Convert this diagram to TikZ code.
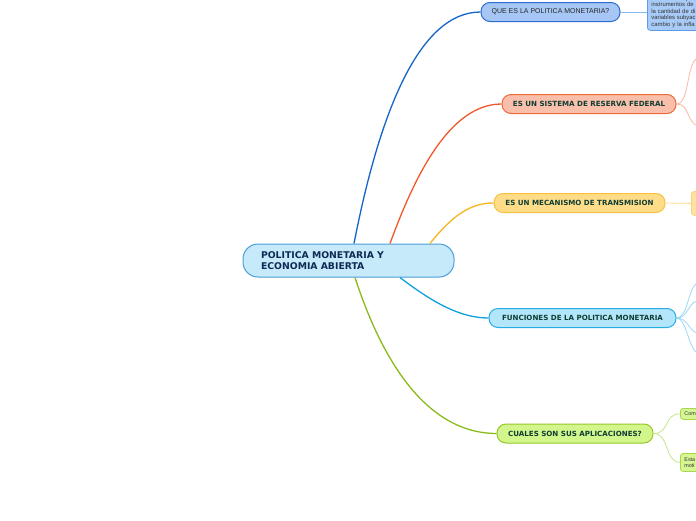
\documentclass[tikz,border=0pt]{standalone}
\usepackage{fontspec}
\setmainfont{DejaVu Sans}
\newfontfamily\arialf{Liberation Sans}
\usetikzlibrary{calc}
\definecolor{txtdark}{HTML}{0F3D33}
\definecolor{roottxt}{HTML}{0E2A52}
\definecolor{rootfill}{HTML}{C7EAFB}
\definecolor{rootdraw}{HTML}{4C9ED8}
\definecolor{bline}{HTML}{1565C8}
\definecolor{bfill}{HTML}{A6C7F6}
\definecolor{bdraw}{HTML}{2E6CD0}
\definecolor{bsubfill}{HTML}{A9CBF7}
\definecolor{bsubdraw}{HTML}{5B9BE8}
\definecolor{bsubline}{HTML}{8DB8F0}
\definecolor{oline}{HTML}{F0582A}
\definecolor{ofill}{HTML}{F9BFAA}
\definecolor{odraw}{HTML}{F06A3C}
\definecolor{osubline}{HTML}{F9B9A0}
\definecolor{yline}{HTML}{F8B51E}
\definecolor{yfill}{HTML}{FFDD88}
\definecolor{ydraw}{HTML}{F8C040}
\definecolor{ysubline}{HTML}{FFD98A}
\definecolor{ysubfill}{HTML}{FFE2A0}
\definecolor{cline}{HTML}{0FA0E0}
\definecolor{cfill}{HTML}{B3E6FA}
\definecolor{cdraw}{HTML}{25AEE6}
\definecolor{csubline}{HTML}{9ED8F5}
\definecolor{gline}{HTML}{88BC1C}
\definecolor{gfill}{HTML}{D3F68C}
\definecolor{gdraw}{HTML}{96C828}
\definecolor{gsubline}{HTML}{C5E68A}
\definecolor{gsubfill}{HTML}{D6F694}
\definecolor{gsubdraw}{HTML}{A8D84A}
\tikzset{
  mainbox/.style={rounded corners=9pt, line width=1pt, minimum height=19pt, inner sep=0pt,
    font=\fontsize{7.1}{8}\selectfont\bfseries, text=txtdark},
  conn/.style={line width=1.3pt},
  subconn/.style={line width=0.8pt},
  subbox/.style={rounded corners=3pt, line width=0.8pt, inner sep=0pt, anchor=north west,
    font=\arialf\fontsize{5.4}{6.3}\selectfont, text=black!80, align=left}
}
\begin{document}
\begin{tikzpicture}[x=1pt,y=-1pt]
\useasboundingbox (0,0) rectangle (696,520);
\clip (0,0) rectangle (696,520);
\fill[white] (0,0) rectangle (696,520);

% root
\node[rounded corners=15pt, line width=1pt, draw=rootdraw, fill=rootfill, minimum height=33pt,
  text width=175pt, inner xsep=18pt, inner ysep=0pt, align=left,
  font=\fontsize{9.3}{11}\selectfont\bfseries, text=roottxt]
  (root) at (348.5,260.5) {POLITICA MONETARIA Y\\ECONOMIA ABIERTA};

% main nodes
\node[mainbox, draw=bdraw, fill=bfill, minimum width=139pt, font=\arialf\fontsize{7}{8}\selectfont, text=black!85]
  (q) at (550.5,12) {QUE ES LA POLITICA MONETARIA?};
\node[mainbox, draw=odraw, fill=ofill, minimum width=174pt] (r) at (589,104) {ES UN SISTEMA DE RESERVA FEDERAL};
\node[mainbox, draw=ydraw, fill=yfill, minimum width=171pt] (m) at (579.5,203) {ES UN MECANISMO DE TRANSMISION};
\node[mainbox, draw=cdraw, fill=cfill, minimum width=187pt] (f) at (582.5,318) {FUNCIONES DE LA POLITICA MONETARIA};
\node[mainbox, draw=gdraw, fill=gfill, minimum width=156pt] (a) at (575,433.5) {CUALES SON SUS APLICACIONES?};

% main connectors
\draw[conn, bline] ([xshift=5.5pt]root.north) .. controls (380,110) and (420,12) .. (q.west);
\draw[conn, oline] ([xshift=41.5pt]root.north) .. controls (415,175) and (450,104) .. (r.west);
\draw[conn, yline] ([xshift=81.5pt]root.north) .. controls (452,216) and (470,203) .. (m.west);
\draw[conn, cline] ([xshift=51.5pt]root.south) .. controls (432,302) and (460,318) .. (f.west);
\draw[conn, gline] ([xshift=6.5pt]root.south) .. controls (390,385) and (440,433.5) .. (a.west);

% blue sub node
\node[subbox, draw=bsubdraw, fill=bsubfill, minimum width=80pt, minimum height=37pt, text width=72pt,
  inner xsep=4pt, inner ysep=1.5pt, font=\arialf\fontsize{5.9}{6.5}\selectfont] (qs) at (647,-7)
  {es decir a la p\\instrumentos de\\la cantidad de di\\variables subyac\\cambio y la infla};
\draw[subconn, bsubline] (q.east) -- (qs.west |- q.east);

% orange sub connectors
\coordinate (ro1) at (698,58);
\coordinate (ro2) at (698,126);
\draw[subconn, osubline] (r.east) .. controls (690,104) and (686,62) .. (ro1);
\draw[subconn, osubline] (r.east) .. controls (690,104) and (686,122) .. (ro2);

% yellow sub node
\node[subbox, draw=ydraw!70, fill=ysubfill, minimum width=30pt, minimum height=24pt] (ms) at (691,191) {};
\draw[subconn, ysubline] (m.east) -- (ms.west);

% cyan sub connectors
\coordinate (cf1) at (697,283);
\coordinate (cf2) at (697,301);
\coordinate (cf3) at (697,333);
\coordinate (cf4) at (696,352);
\draw[subconn, csubline] (f.east) .. controls (688,318) and (688,288) .. (cf1);
\draw[subconn, csubline] (f.east) .. controls (688,318) and (688,303) .. (cf2);
\draw[subconn, csubline] (f.east) .. controls (688,318) and (688,330) .. (cf3);
\draw[subconn, csubline] (f.east) .. controls (686,318) and (688,345) .. (cf4);

% green sub nodes
\node[subbox, draw=gsubdraw, fill=gsubfill, text width=26pt, minimum height=11pt, inner xsep=4pt] (g1) at (680,408) {Com};
\node[subbox, draw=gsubdraw, fill=gsubfill, text width=26pt, minimum height=18pt, inner xsep=4pt, inner ysep=2.5pt] (g2) at (680,453) {Esta\\moti};
\draw[subconn, gsubline] (a.east) .. controls (670,433.5) and (664,413.5) .. (g1.west);
\draw[subconn, gsubline] (a.east) .. controls (670,433.5) and (664,462) .. (g2.west);
\end{tikzpicture}
\end{document}
